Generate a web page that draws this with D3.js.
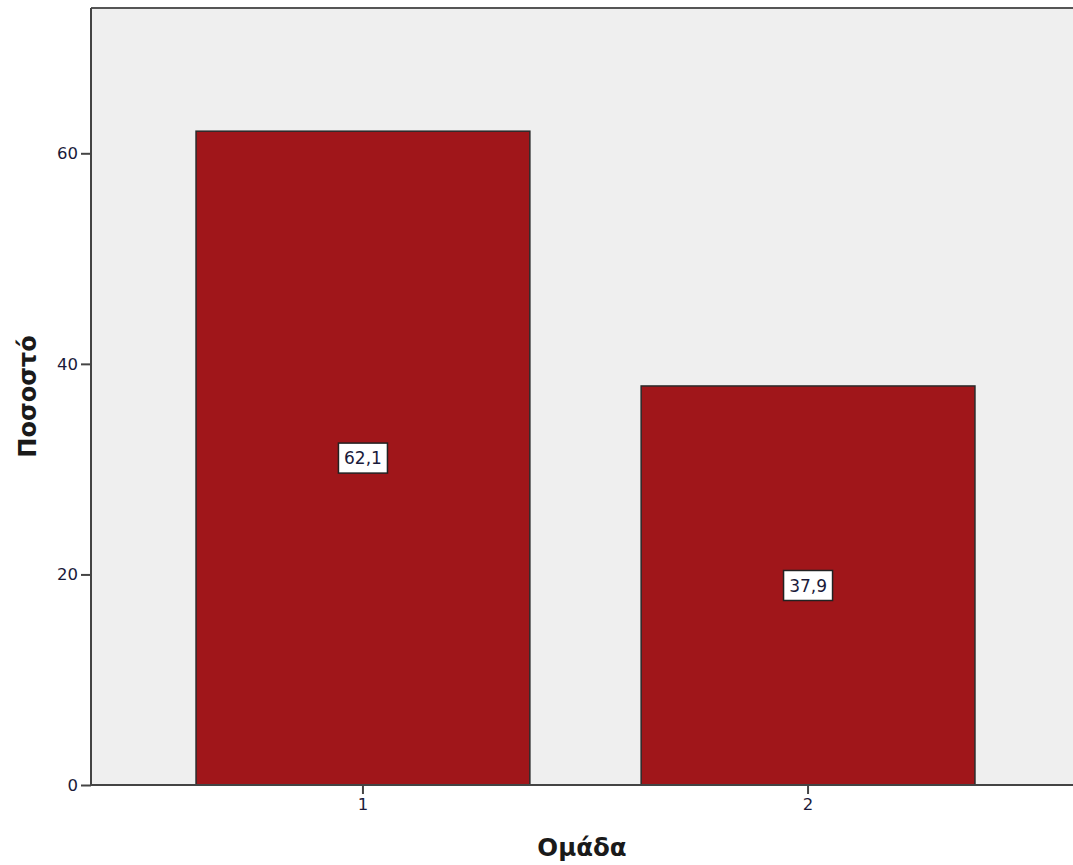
<!DOCTYPE html>
<html><head><meta charset="utf-8">
<script src="https://cdn.jsdelivr.net/npm/d3@7"></script>
<style>body{margin:0;background:#fff}svg{display:block}</style>
</head><body>
<svg id="c" width="1073" height="865"></svg>
<script>
const categories = ["1", "2"];
const values = [62.1, 37.9];
const valueLabels = ["62,1", "37,9"];
const yTicks = [0, 20, 40, 60];
const xTitle = "Ομάδα";
const yTitle = "Ποσοστό";

const svg = d3.select("#c");
const L = 91, T = 8, R = 1080, B = 785;

const x = d3.scaleBand().domain(categories).range([L, R]).paddingInner(0.25).paddingOuter(0.236);
const y = d3.scaleLinear().domain([0, 73.8]).range([B, T]);

svg.append("rect").attr("x", L).attr("y", T).attr("width", 1073 - L + 5).attr("height", B - T)
  .attr("fill", "#efefef");

svg.selectAll("rect.bar").data(values).enter().append("rect").attr("class", "bar")
  .attr("x", (d, i) => x(categories[i]))
  .attr("y", d => y(d))
  .attr("width", x.bandwidth())
  .attr("height", d => B - y(d))
  .attr("fill", "#a0161a").attr("stroke", "#2a2a2a").attr("stroke-width", 1.5);

svg.append("line").attr("x1", L).attr("x2", 1073).attr("y1", T).attr("y2", T).attr("stroke", "#555").attr("stroke-width", 2);

const ya = d3.axisLeft(y).tickValues(yTicks).tickSize(10).tickPadding(3).tickFormat(d3.format("d"));
const gy = svg.append("g").attr("transform", `translate(${L},0)`).call(ya);
gy.select(".domain").attr("stroke", "#444").attr("stroke-width", 2).attr("d", `M0,${T}V${B}`);
gy.selectAll(".tick line").attr("stroke", "#444").attr("stroke-width", 2);
gy.selectAll(".tick text").attr("font-family", "'DejaVu Sans', sans-serif").attr("font-size", 16.5).attr("fill", "#1a1a3a");

const xa = d3.axisBottom(x).tickSize(9).tickPadding(4);
const gx = svg.append("g").attr("transform", `translate(0,${B})`).call(xa);
gx.select(".domain").attr("stroke", "#444").attr("stroke-width", 2).attr("d", `M${L},0H1073`);
gx.selectAll(".tick line").attr("stroke", "#444").attr("stroke-width", 2);
gx.selectAll(".tick text").attr("font-family", "'DejaVu Sans', sans-serif").attr("font-size", 16.5).attr("fill", "#1a1a3a");

const lg = svg.selectAll("g.lab").data(values).enter().append("g").attr("class", "lab")
  .attr("transform", (d, i) => `translate(${x(categories[i]) + x.bandwidth() / 2},${(y(d) + B) / 2})`);
lg.append("rect").attr("x", -24.5).attr("y", -15).attr("width", 49).attr("height", 30)
  .attr("fill", "#fff").attr("stroke", "#222").attr("stroke-width", 1.5);
lg.append("text").text((d, i) => valueLabels[i]).attr("text-anchor", "middle").attr("dy", "0.36em")
  .attr("font-family", "'DejaVu Sans', sans-serif").attr("font-size", 17).attr("fill", "#1a1a3a");

svg.append("text").text(xTitle).attr("x", (L + 1073) / 2).attr("y", 856).attr("text-anchor", "middle")
  .attr("font-family", "'DejaVu Sans', sans-serif").attr("font-weight", "bold").attr("font-size", 24.5).attr("fill", "#1a1a1a");
svg.append("text").text(yTitle).attr("transform", `translate(36,${(T + B) / 2}) rotate(-90)`).attr("text-anchor", "middle")
  .attr("font-family", "'DejaVu Sans', sans-serif").attr("font-weight", "bold").attr("font-size", 24).attr("fill", "#1a1a1a");
</script>
</body></html>
